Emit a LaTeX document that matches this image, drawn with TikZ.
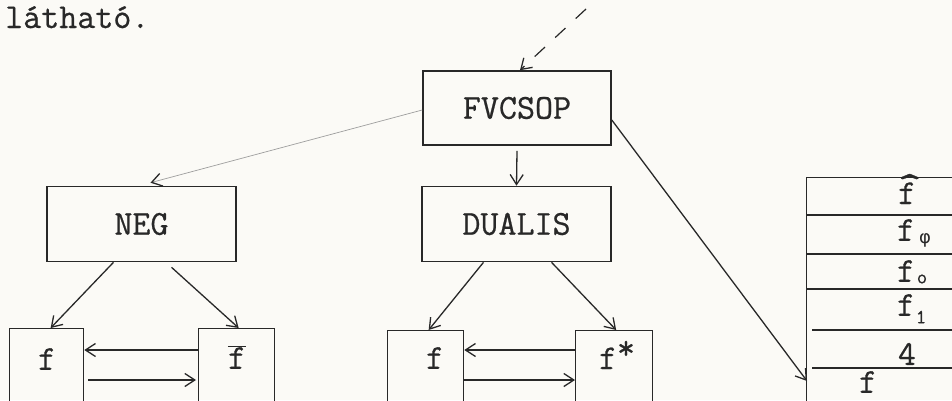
\documentclass[tikz,border=0pt]{standalone}
\usepackage{fontspec}
\newfontfamily\tw{Latin Modern Mono}[FakeBold=0.6]
\newfontfamily\twg{DejaVu Sans}
\usetikzlibrary{arrows.meta}
\definecolor{paper}{RGB}{251,250,246}
\definecolor{ink}{RGB}{40,40,40}
\tikzset{
  every node/.style={font=\tw\fontsize{35}{38}\selectfont, text=ink},
  box/.style={draw=ink, line width=1.6pt, rectangle, inner sep=0pt},
  cell/.style={draw=ink, line width=1.3pt, rectangle, inner sep=0pt, anchor=north west},
  lbl/.style={inner sep=0pt},
  sublbl/.style={inner sep=0pt, font=\tw\fontsize{20}{22}\selectfont},
  arr/.style={draw=ink, line width=1.3pt, -{Straight Barb[length=10pt,width=13pt,line width=1.3pt]}},
  faint/.style={draw=ink!45, line width=0.7pt, -{Straight Barb[length=10pt,width=13pt,line width=1.3pt,color=ink]}},
  dsh/.style={draw=ink, line width=1.2pt, dash pattern=on 14pt off 14pt, -{Straight Barb[length=10pt,width=13pt,line width=1.3pt]}},
  rule/.style={draw=ink, line width=1.3pt}
}
\begin{document}
\begin{tikzpicture}[x=1pt,y=-1pt]
\useasboundingbox (0,0) rectangle (952,400);
\fill[paper] (0,0) rectangle (952,400);
\clip (0,0) rectangle (952,400);

% heading text
\node[lbl, anchor=base west] (txt) at (5,28) {látható.};

% main boxes
\node[box, minimum width=188pt, minimum height=74pt] (fv) at (517,108) {FVCSOP\hspace{38pt}};
\node[box, minimum width=189pt, minimum height=75pt] (neg) at (141.5,224) {NEG\hspace{12pt}};
\node[box, minimum width=189pt, minimum height=75pt] (dua) at (516.5,224) {DUALIS\hspace{38pt}};

% small cells (cut by lower edge)
\node[cell, minimum width=74pt, minimum height=100pt] (nf) at (9,328) {};
\node[cell, minimum width=76pt, minimum height=100pt] (nfb) at (198,328) {};
\node[cell, minimum width=76pt, minimum height=100pt] (df) at (387,330) {};
\node[cell, minimum width=77pt, minimum height=100pt] (dfs) at (575,330) {};

\node[lbl] (nft) at (47,359) {f};
\node[lbl] (nfbt) at (237,357) {$\overline{\mbox{f}}$};
\node[lbl] (dft) at (435,358) {f};
\node[lbl] (dfst) at (617,355) {f\raisebox{10pt}{*}};

% stack on the right
\node[cell, minimum width=200pt, minimum height=260pt] (stk) at (806,177) {};
\coordinate (r1) at (806,215);
\coordinate (r2) at (806,254);
\coordinate (r3) at (806,289);
\coordinate (r4) at (812,330);
\coordinate (r5) at (812,368);
\foreach \r in {r1,r2,r3,r4,r5} \draw[rule] (\r) -- ++(160,0);

\node[lbl, anchor=base] (s1) at (907,204) {\rlap{\raisebox{6pt}{\scalebox{1.3}[1.1]{\textasciicircum}}}f};
\node[lbl] (s2) at (906,230) {f};
\node[sublbl, font=\twg\fontsize{18}{20}\selectfont] (s2s) at (925,240) {φ};
\node[lbl] (s3) at (906,271) {f};
\node[sublbl] (s3s) at (922,279) {o};
\node[lbl] (s4) at (906,305) {f};
\node[sublbl] (s4s) at (921,317) {1};
\node[lbl] (s5) at (907,354) {4};
\node[lbl] (s6) at (868,382) {f};

% connectors
\coordinate (dstart) at (586,9);
\draw[dsh] (dstart) -- ([xshift=3pt]fv.north);
\draw[faint] ([yshift=-2pt]fv.west) -- ([xshift=9pt,yshift=3pt]neg.north);
\draw[arr] ([yshift=-5pt]fv.south) -- (dua.north);
\coordinate (tgt) at (807,381);
\draw[arr] ([yshift=-12pt]fv.east) -- (tgt);

\draw[arr] ([xshift=-28pt]neg.south) -- ([xshift=4pt]nf.north);
\draw[arr] ([xshift=30pt,yshift=-5pt]neg.south) -- ([xshift=2pt]nfb.north);
\draw[arr] ([xshift=-33pt]dua.south) -- ([xshift=3pt]df.north);
\draw[arr] ([xshift=35pt]dua.south) -- ([xshift=2pt]dfs.north);

\draw[arr] ([yshift=-22pt]nfb.north west) -- ([yshift=-22pt]nf.north east);
\draw[arr] ([xshift=4pt,yshift=-52pt]nf.north east) -- ([xshift=-2pt,yshift=-52pt]nfb.north west);
\draw[arr] ([yshift=-20pt]dfs.north west) -- ([yshift=-20pt]df.north east);
\draw[arr] ([yshift=-50pt]df.north east) -- ([yshift=-50pt]dfs.north west);
\end{tikzpicture}
\end{document}
